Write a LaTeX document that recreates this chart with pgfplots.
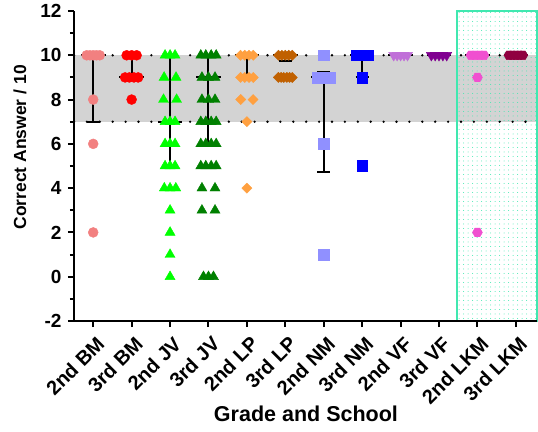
\documentclass[border=0pt]{standalone}
\usepackage{fontspec}
\setmainfont{Liberation Sans}
\usepackage{pgfplots}
\pgfplotsset{compat=1.18}
\usetikzlibrary{patterns.meta}
\definecolor{cA}{RGB}{242,128,128}
\definecolor{cB}{RGB}{255,0,0}
\definecolor{cC}{RGB}{0,255,0}
\definecolor{cD}{RGB}{0,128,0}
\definecolor{cE}{RGB}{255,160,64}
\definecolor{cF}{RGB}{192,96,0}
\definecolor{cG}{RGB}{144,144,255}
\definecolor{cH}{RGB}{0,0,255}
\definecolor{cI}{RGB}{192,112,216}
\definecolor{cJ}{RGB}{128,0,144}
\definecolor{cK}{RGB}{240,80,208}
\definecolor{cL}{RGB}{144,0,64}
\definecolor{aqua}{RGB}{64,232,176}
\definecolor{band}{RGB}{211,211,211}
\pgfdeclareplotmark{hexagon*}{%
  \pgfpathmoveto{\pgfpointpolar{0}{\pgfplotmarksize}}%
  \pgfpathlineto{\pgfpointpolar{60}{\pgfplotmarksize}}%
  \pgfpathlineto{\pgfpointpolar{120}{\pgfplotmarksize}}%
  \pgfpathlineto{\pgfpointpolar{180}{\pgfplotmarksize}}%
  \pgfpathlineto{\pgfpointpolar{240}{\pgfplotmarksize}}%
  \pgfpathlineto{\pgfpointpolar{300}{\pgfplotmarksize}}%
  \pgfpathclose\pgfusepathqfillstroke}
\begin{document}
\begin{tikzpicture}
\useasboundingbox (-74pt,-110pt) rectangle (464pt,321pt);
\begin{axis}[
  at={(0,0)}, anchor=south west,
  scale only axis, width=463pt, height=310pt,
  xmin=-0.5, xmax=11.55, ymin=-2, ymax=12,
  axis x line*=bottom, axis y line*=left,
  axis line style={line width=2pt, black},
  every tick/.style={line width=2pt, black},
  tick align=outside,
  major tick length=6pt, minor tick length=4pt,
  xtick={0,...,11},
  xticklabels={2nd BM,3rd BM,2nd JV,3rd JV,2nd LP,3rd LP,2nd NM,3rd NM,2nd VF,3rd VF,2nd LKM,3rd LKM},
  ytick={-2,0,...,12}, minor y tick num=1,
  /pgf/number format/assume math mode=true,
  yticklabel style={font=\bfseries\fontsize{19}{21}\selectfont, xshift=-3pt},
  xticklabel style={font=\bfseries\fontsize{20}{22}\selectfont, xshift=10pt, yshift=-11pt, rotate=45, anchor=east},
  ylabel={Correct Answer / 10},
  xlabel={Grade and School},
  ylabel style={font=\bfseries\fontsize{17.5}{20}\selectfont, at={(axis description cs:-0.1166,0.56)}, anchor=center, rotate=0},
  xlabel style={font=\bfseries\fontsize{21.5}{24}\selectfont, at={(axis description cs:0.501,-0.30)}, anchor=center},
  clip=false, axis on top=true,
  unbounded coords=jump,
]
% grey band
\addplot[draw=none, fill=band] coordinates {(-0.5,7) (11.55,7) (11.55,10) (-0.5,10)} -- cycle;
% dotted lines
\addplot[black, line width=2.6pt, line cap=round, dash pattern=on 0pt off 12.9pt] coordinates {(-0.5,10) (11.55,10)};
\addplot[black, line width=2.6pt, line cap=round, dash pattern=on 0pt off 12.9pt] coordinates {(-0.5,7) (11.55,7)};
% highlighted region
\addplot[draw=aqua, line width=2pt, pattern={Dots[distance=4.5pt, radius=0.5pt]}, pattern color=aqua] coordinates {(9.474,-2) (11.55,-2) (11.55,12) (9.474,12)} -- cycle;
% points
\addplot[only marks, mark=*, mark size=5pt, mark options={fill=cA, draw=cA}] coordinates {
(-0.17,10) (-0.085,10) (0,10) (0.085,10) (0.17,10) (0,8) (0,6) (0,2)};
\addplot[only marks, mark=*, mark size=5pt, mark options={fill=cB, draw=cB}] coordinates {
(0.87,10) (1,10) (1.13,10) (0.83,9) (0.94,9) (1.06,9) (1.17,9) (1,8)};
\addplot[only marks, mark=triangle*, mark size=5.8pt, mark options={fill=cC, draw=cC}] coordinates {
(1.87,10) (2,10) (2.13,10) (1.845,9) (2.155,9) (1.83,8) (2.17,8)
(1.87,7) (2,7) (2.13,7) (1.87,6) (2,6) (2.13,6) (1.87,5) (2,5) (2.13,5)
(1.85,4) (2,4) (2.15,4) (2,3) (2,2) (2,1) (2,0)};
\addplot[only marks, mark=triangle*, mark size=5.8pt, mark options={fill=cD, draw=cD}] coordinates {
(2.8,10) (2.93,10) (3.07,10) (3.2,10) (2.83,9) (3,9) (3.17,9) (2.83,8) (3,8) (3.17,8)
(2.8,7) (2.93,7) (3.07,7) (3.2,7) (2.8,6) (2.93,6) (3.07,6) (3.2,6)
(2.8,5) (2.93,5) (3.07,5) (3.2,5) (2.83,4) (3.17,4) (2.83,3) (3.17,3)
(2.87,0) (3,0) (3.13,0)};
\addplot[only marks, mark=square*, mark size=3.6pt, mark options={fill=cE, draw=cE, rotate=45}] coordinates {
(3.835,10) (3.945,10) (4.055,10) (4.165,10) (3.835,9) (3.945,9) (4.055,9) (4.165,9)
(3.84,8) (4.16,8) (4,7) (4,4)};
\addplot[only marks, mark=square*, mark size=3.6pt, mark options={fill=cF, draw=cF, rotate=45}] coordinates {
(4.82,10) (4.91,10) (5,10) (5.09,10) (5.18,10)
(4.82,9) (4.89,9) (4.96,9) (5.04,9) (5.11,9) (5.18,9)};
\addplot[only marks, mark=square*, mark size=5.3pt, mark options={fill=cG, draw=cG}] coordinates {
(6,10) (5.83,9) (5.94,9) (6.06,9) (6.17,9) (6,6) (6,1)};
\addplot[only marks, mark=square*, mark size=5.3pt, mark options={fill=cH, draw=cH}] coordinates {
(6.84,10) (6.95,10) (7.05,10) (7.16,10) (7,9) (7,5)};
\addplot[only marks, mark=triangle*, mark size=5.8pt, mark options={fill=cI, draw=cI, rotate=180}] coordinates {
(7.82,10) (7.91,10) (8,10) (8.09,10) (8.18,10)};
\addplot[only marks, mark=triangle*, mark size=5.8pt, mark options={fill=cJ, draw=cJ, rotate=180}] coordinates {
(8.8,10) (8.9,10) (9,10) (9.1,10) (9.2,10)};
\addplot[only marks, mark=hexagon*, mark size=5pt, mark options={fill=cK, draw=cK}] coordinates {
(9.83,10) (9.94,10) (10.06,10) (10.17,10) (10,9) (10,2)};
\addplot[only marks, mark=hexagon*, mark size=5pt, mark options={fill=cL, draw=cL}] coordinates {
(10.82,10) (10.91,10) (11,10) (11.09,10) (11.18,10)};
% medians and ranges
\addplot[black, line width=2pt] coordinates {
(-0.32,10) (0.32,10) (0,nan) (0,7) (0,10) (0,nan) (-0.17,7) (0.17,7) (0,nan) (-0.17,10) (0.17,10) (0,nan)
(0.68,9) (1.32,9) (0,nan) (1,9) (1,10) (0,nan) (0.83,10) (1.17,10) (0,nan)
(1.68,7) (2.32,7) (0,nan) (2,5) (2,10) (0,nan) (1.83,5) (2.17,5) (0,nan) (1.83,10) (2.17,10) (0,nan)
(2.68,9) (3.32,9) (0,nan) (3,6) (3,10) (0,nan) (2.83,6) (3.17,6) (0,nan) (2.83,10) (3.17,10) (0,nan)
(3.68,10) (4.32,10) (0,nan) (4,9) (4,10) (0,nan) (3.83,9) (4.17,9) (0,nan)
(4.68,10) (5.32,10) (0,nan) (5,9.75) (5,10) (0,nan) (4.83,9.75) (5.17,9.75) (0,nan)
(5.68,9) (6.32,9) (0,nan) (6,4.75) (6,9.25) (0,nan) (5.83,4.75) (6.17,4.75) (0,nan) (5.83,9.25) (6.17,9.25) (0,nan)
(6.68,10) (7.32,10) (0,nan) (7,9) (7,10) (0,nan) (6.83,9) (7.17,9) (0,nan)
(7.68,10) (8.32,10) (0,nan)
(8.68,10) (9.32,10) (0,nan)
(9.68,10) (10.32,10) (0,nan)
(10.68,10) (11.32,10)};
\end{axis}
\end{tikzpicture}
\end{document}
